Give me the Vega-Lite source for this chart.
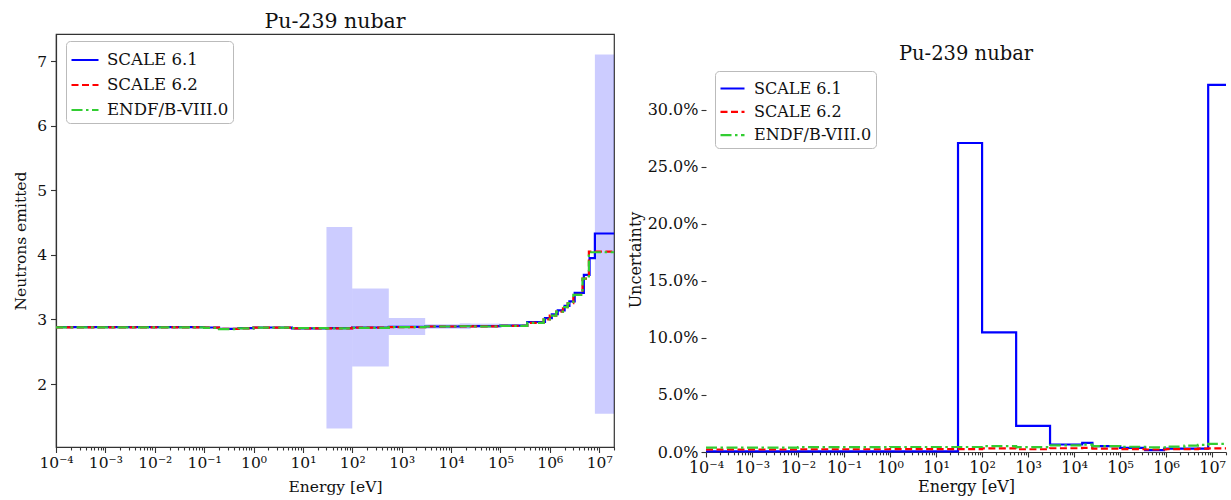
{
  "$schema": "https://vega.github.io/schema/vega-lite/v6.json",
  "padding": {"left": 13, "top": 10, "right": 0, "bottom": 0},
  "spacing": 8,
  "datasets": {
    "nubar": [
      {"lib": "SCALE 6.1", "E": 0.0001, "nu": 2.88},
      {"lib": "SCALE 6.1", "E": 0.001, "nu": 2.88},
      {"lib": "SCALE 6.1", "E": 0.01, "nu": 2.88},
      {"lib": "SCALE 6.1", "E": 0.1, "nu": 2.875},
      {"lib": "SCALE 6.1", "E": 0.2, "nu": 2.855},
      {"lib": "SCALE 6.1", "E": 0.5, "nu": 2.865},
      {"lib": "SCALE 6.1", "E": 1, "nu": 2.875},
      {"lib": "SCALE 6.1", "E": 3, "nu": 2.875},
      {"lib": "SCALE 6.1", "E": 6, "nu": 2.86},
      {"lib": "SCALE 6.1", "E": 30, "nu": 2.865},
      {"lib": "SCALE 6.1", "E": 100, "nu": 2.875},
      {"lib": "SCALE 6.1", "E": 550, "nu": 2.885},
      {"lib": "SCALE 6.1", "E": 3000, "nu": 2.89},
      {"lib": "SCALE 6.1", "E": 15000, "nu": 2.895},
      {"lib": "SCALE 6.1", "E": 25000, "nu": 2.895},
      {"lib": "SCALE 6.1", "E": 100000, "nu": 2.905},
      {"lib": "SCALE 6.1", "E": 350000, "nu": 2.96},
      {"lib": "SCALE 6.1", "E": 800000, "nu": 3.02},
      {"lib": "SCALE 6.1", "E": 1100000, "nu": 3.08},
      {"lib": "SCALE 6.1", "E": 1450000, "nu": 3.14},
      {"lib": "SCALE 6.1", "E": 2000000, "nu": 3.21},
      {"lib": "SCALE 6.1", "E": 2500000, "nu": 3.28},
      {"lib": "SCALE 6.1", "E": 3200000, "nu": 3.41},
      {"lib": "SCALE 6.1", "E": 4900000, "nu": 3.69},
      {"lib": "SCALE 6.1", "E": 6400000, "nu": 3.95},
      {"lib": "SCALE 6.1", "E": 8200000, "nu": 4.33},
      {"lib": "SCALE 6.1", "E": 20000000, "nu": 4.33},
      {"lib": "SCALE 6.2", "E": 0.0001, "nu": 2.878},
      {"lib": "SCALE 6.2", "E": 0.001, "nu": 2.878},
      {"lib": "SCALE 6.2", "E": 0.01, "nu": 2.877},
      {"lib": "SCALE 6.2", "E": 0.1, "nu": 2.872},
      {"lib": "SCALE 6.2", "E": 0.2, "nu": 2.852},
      {"lib": "SCALE 6.2", "E": 0.5, "nu": 2.862},
      {"lib": "SCALE 6.2", "E": 1, "nu": 2.873},
      {"lib": "SCALE 6.2", "E": 3, "nu": 2.872},
      {"lib": "SCALE 6.2", "E": 6, "nu": 2.862},
      {"lib": "SCALE 6.2", "E": 30, "nu": 2.862},
      {"lib": "SCALE 6.2", "E": 100, "nu": 2.872},
      {"lib": "SCALE 6.2", "E": 550, "nu": 2.882},
      {"lib": "SCALE 6.2", "E": 3000, "nu": 2.89},
      {"lib": "SCALE 6.2", "E": 15000, "nu": 2.893},
      {"lib": "SCALE 6.2", "E": 25000, "nu": 2.892},
      {"lib": "SCALE 6.2", "E": 100000, "nu": 2.9},
      {"lib": "SCALE 6.2", "E": 350000, "nu": 2.945},
      {"lib": "SCALE 6.2", "E": 750000, "nu": 3.0},
      {"lib": "SCALE 6.2", "E": 1000000, "nu": 3.06},
      {"lib": "SCALE 6.2", "E": 1350000, "nu": 3.12},
      {"lib": "SCALE 6.2", "E": 1850000, "nu": 3.19},
      {"lib": "SCALE 6.2", "E": 2300000, "nu": 3.25},
      {"lib": "SCALE 6.2", "E": 3000000, "nu": 3.38},
      {"lib": "SCALE 6.2", "E": 4600000, "nu": 3.63},
      {"lib": "SCALE 6.2", "E": 6200000, "nu": 4.05},
      {"lib": "SCALE 6.2", "E": 20000000, "nu": 4.05},
      {"lib": "ENDF/B-VIII.0", "E": 0.0001, "nu": 2.876},
      {"lib": "ENDF/B-VIII.0", "E": 0.001, "nu": 2.876},
      {"lib": "ENDF/B-VIII.0", "E": 0.01, "nu": 2.876},
      {"lib": "ENDF/B-VIII.0", "E": 0.1, "nu": 2.87},
      {"lib": "ENDF/B-VIII.0", "E": 0.2, "nu": 2.85},
      {"lib": "ENDF/B-VIII.0", "E": 0.5, "nu": 2.86},
      {"lib": "ENDF/B-VIII.0", "E": 1, "nu": 2.874},
      {"lib": "ENDF/B-VIII.0", "E": 3, "nu": 2.873},
      {"lib": "ENDF/B-VIII.0", "E": 6, "nu": 2.864},
      {"lib": "ENDF/B-VIII.0", "E": 30, "nu": 2.86},
      {"lib": "ENDF/B-VIII.0", "E": 100, "nu": 2.87},
      {"lib": "ENDF/B-VIII.0", "E": 550, "nu": 2.88},
      {"lib": "ENDF/B-VIII.0", "E": 3000, "nu": 2.89},
      {"lib": "ENDF/B-VIII.0", "E": 15000, "nu": 2.894},
      {"lib": "ENDF/B-VIII.0", "E": 25000, "nu": 2.89},
      {"lib": "ENDF/B-VIII.0", "E": 100000, "nu": 2.9},
      {"lib": "ENDF/B-VIII.0", "E": 350000, "nu": 2.945},
      {"lib": "ENDF/B-VIII.0", "E": 750000, "nu": 3.0},
      {"lib": "ENDF/B-VIII.0", "E": 1000000, "nu": 3.06},
      {"lib": "ENDF/B-VIII.0", "E": 1350000, "nu": 3.12},
      {"lib": "ENDF/B-VIII.0", "E": 1850000, "nu": 3.19},
      {"lib": "ENDF/B-VIII.0", "E": 2300000, "nu": 3.25},
      {"lib": "ENDF/B-VIII.0", "E": 3000000, "nu": 3.38},
      {"lib": "ENDF/B-VIII.0", "E": 4600000, "nu": 3.63},
      {"lib": "ENDF/B-VIII.0", "E": 6200000, "nu": 4.04},
      {"lib": "ENDF/B-VIII.0", "E": 20000000, "nu": 4.04}
    ],
    "bands": [
      {"E_lo": 30, "E_hi": 100, "lo": 1.31, "hi": 4.43},
      {"E_lo": 100, "E_hi": 550, "lo": 2.27, "hi": 3.48},
      {"E_lo": 550, "E_hi": 3000, "lo": 2.76, "hi": 3.02},
      {"E_lo": 3000, "E_hi": 15000, "lo": 2.855, "hi": 2.925},
      {"E_lo": 15000, "E_hi": 25000, "lo": 2.85, "hi": 2.94},
      {"E_lo": 25000, "E_hi": 100000, "lo": 2.875, "hi": 2.935},
      {"E_lo": 100000, "E_hi": 350000, "lo": 2.885, "hi": 2.925},
      {"E_lo": 8200000, "E_hi": 20000000, "lo": 1.54, "hi": 7.1}
    ],
    "unc": [
      {"lib": "SCALE 6.1", "E": 0.0001, "u": 0.0005},
      {"lib": "SCALE 6.1", "E": 30, "u": 0.271},
      {"lib": "SCALE 6.1", "E": 100, "u": 0.105},
      {"lib": "SCALE 6.1", "E": 550, "u": 0.023},
      {"lib": "SCALE 6.1", "E": 3000, "u": 0.0066},
      {"lib": "SCALE 6.1", "E": 15000, "u": 0.008},
      {"lib": "SCALE 6.1", "E": 25000, "u": 0.0052},
      {"lib": "SCALE 6.1", "E": 100000, "u": 0.0037},
      {"lib": "SCALE 6.1", "E": 350000, "u": 0.0017},
      {"lib": "SCALE 6.1", "E": 900000, "u": 0.003},
      {"lib": "SCALE 6.1", "E": 8200000, "u": 0.322},
      {"lib": "SCALE 6.1", "E": 20000000, "u": 0.322},
      {"lib": "SCALE 6.2", "E": 0.0001, "u": 0.0022},
      {"lib": "SCALE 6.2", "E": 0.01, "u": 0.0024},
      {"lib": "SCALE 6.2", "E": 1, "u": 0.0025},
      {"lib": "SCALE 6.2", "E": 100, "u": 0.0032},
      {"lib": "SCALE 6.2", "E": 550, "u": 0.0024},
      {"lib": "SCALE 6.2", "E": 3000, "u": 0.0033},
      {"lib": "SCALE 6.2", "E": 15000, "u": 0.0036},
      {"lib": "SCALE 6.2", "E": 25000, "u": 0.003},
      {"lib": "SCALE 6.2", "E": 100000, "u": 0.0026},
      {"lib": "SCALE 6.2", "E": 350000, "u": 0.0022},
      {"lib": "SCALE 6.2", "E": 1000000, "u": 0.0025},
      {"lib": "SCALE 6.2", "E": 4900000, "u": 0.003},
      {"lib": "SCALE 6.2", "E": 8200000, "u": 0.0032},
      {"lib": "SCALE 6.2", "E": 20000000, "u": 0.0032},
      {"lib": "ENDF/B-VIII.0", "E": 0.0001, "u": 0.0038},
      {"lib": "ENDF/B-VIII.0", "E": 0.01, "u": 0.0042},
      {"lib": "ENDF/B-VIII.0", "E": 1, "u": 0.0044},
      {"lib": "ENDF/B-VIII.0", "E": 100, "u": 0.0052},
      {"lib": "ENDF/B-VIII.0", "E": 550, "u": 0.0042},
      {"lib": "ENDF/B-VIII.0", "E": 3000, "u": 0.0058},
      {"lib": "ENDF/B-VIII.0", "E": 15000, "u": 0.0064},
      {"lib": "ENDF/B-VIII.0", "E": 25000, "u": 0.0052},
      {"lib": "ENDF/B-VIII.0", "E": 100000, "u": 0.0046},
      {"lib": "ENDF/B-VIII.0", "E": 350000, "u": 0.004},
      {"lib": "ENDF/B-VIII.0", "E": 1000000, "u": 0.0048},
      {"lib": "ENDF/B-VIII.0", "E": 2500000, "u": 0.0056},
      {"lib": "ENDF/B-VIII.0", "E": 4900000, "u": 0.0063},
      {"lib": "ENDF/B-VIII.0", "E": 8200000, "u": 0.0072},
      {"lib": "ENDF/B-VIII.0", "E": 20000000, "u": 0.0072}
    ]
  },
  "hconcat": [
    {
      "width": 558,
      "height": 413,
      "title": {"text": "Pu-239 nubar", "fontSize": 20.5, "offset": -18, "baseline": "bottom", "anchor": "middle"},
      "layer": [
        {
          "data": {"name": "bands"},
          "mark": {"type": "rect", "color": "#0000ff", "opacity": 0.2},
          "encoding": {
            "x": {"field": "E_lo", "type": "quantitative", "scale": {"type": "log", "domain": [0.0001, 20000000], "nice": false},
              "axis": {
                "title": "Energy [eV]",
                "values": [0.0001,0.0002,0.0003,0.0004,0.0005,0.0006,0.0007,0.0008,0.0009,0.001,0.002,0.003,0.004,0.005,0.006,0.007,0.008,0.009,0.01,0.02,0.03,0.04,0.05,0.06,0.07,0.08,0.09,0.1,0.2,0.3,0.4,0.5,0.6,0.7,0.8,0.9,1,2,3,4,5,6,7,8,9,10,20,30,40,50,60,70,80,90,100,200,300,400,500,600,700,800,900,1000,2000,3000,4000,5000,6000,7000,8000,9000,10000,20000,30000,40000,50000,60000,70000,80000,90000,100000,200000,300000,400000,500000,600000,700000,800000,900000,1000000,2000000,3000000,4000000,5000000,6000000,7000000,8000000,9000000,10000000,20000000],
                "labelExpr": "abs(log(datum.value)/LN10 - round(log(datum.value)/LN10)) < 0.001 ? '10' + replace(replace(replace(replace(replace(replace(replace(replace(replace(replace(replace(toString(round(log(datum.value)/LN10)),'-','⁻'),'0','⁰'),'1','¹'),'2','²'),'3','³'),'4','⁴'),'5','⁵'),'6','⁶'),'7','⁷'),'8','⁸'),'9','⁹') : ''",
                "tickSize": {"condition": {"test": "abs(log(datum.value)/LN10 - round(log(datum.value)/LN10)) < 0.001", "value": 5.5}, "value": 3},
                "labelFlush": false, "labelOverlap": false, "labelFontSize": 15.5, "titleFontSize": 15.5, "labelPadding": 3, "titlePadding": 8
              }
            },
            "x2": {"field": "E_hi"},
            "y": {"field": "lo", "type": "quantitative"},
            "y2": {"field": "hi"}
          }
        },
        {
          "data": {"name": "nubar"},
          "transform": [{"filter": "datum.lib === 'SCALE 6.1'"}],
          "mark": {"type": "line", "interpolate": "step-after", "strokeWidth": 2.2},
          "encoding": {
            "x": {"field": "E", "type": "quantitative"},
            "y": {"field": "nu", "type": "quantitative", "scale": {"domain": [1.025, 7.418], "nice": false, "zero": false},
              "axis": {"title": "Neutrons emitted", "values": [2,3,4,5,6,7], "format": "d", "tickSize": 5.5, "labelFontSize": 15.5, "titleFontSize": 15.5, "labelPadding": 4, "titlePadding": 8}},
            "color": {"field": "lib", "type": "nominal", "scale": {"domain": ["SCALE 6.1", "SCALE 6.2", "ENDF/B-VIII.0"], "range": ["#0000ff", "#ff0000", "#32cd32"]},
              "legend": {"title": null, "orient": "none", "legendX": 10, "legendY": 7, "symbolType": "stroke", "symbolSize": 729, "symbolStrokeWidth": 2.2, "labelFontSize": 16.6, "padding": 4, "rowPadding": 1, "labelOffset": 7, "fillColor": "white", "strokeColor": "#bbbbbb", "cornerRadius": 4}},
            "strokeDash": {"field": "lib", "type": "nominal", "scale": {"domain": ["SCALE 6.1", "SCALE 6.2", "ENDF/B-VIII.0"], "range": [[1, 0], [7, 3.5], [11, 3.5, 2.5, 3.5]]},
              "legend": {"title": null, "orient": "none", "legendX": 10, "legendY": 7, "symbolType": "stroke", "symbolSize": 729, "symbolStrokeWidth": 2.2, "labelFontSize": 16.6, "padding": 4, "rowPadding": 1, "labelOffset": 7, "fillColor": "white", "strokeColor": "#bbbbbb", "cornerRadius": 4}}
          }
        },
        {
          "data": {"name": "nubar"},
          "transform": [{"filter": "datum.lib === 'SCALE 6.2'"}],
          "mark": {"type": "line", "interpolate": "step-after", "strokeWidth": 2.2},
          "encoding": {
            "x": {"field": "E", "type": "quantitative"},
            "y": {"field": "nu", "type": "quantitative"},
            "color": {"field": "lib", "type": "nominal"},
            "strokeDash": {"field": "lib", "type": "nominal"}
          }
        },
        {
          "data": {"name": "nubar"},
          "transform": [{"filter": "datum.lib === 'ENDF/B-VIII.0'"}],
          "mark": {"type": "line", "interpolate": "step-after", "strokeWidth": 2.2},
          "encoding": {
            "x": {"field": "E", "type": "quantitative"},
            "y": {"field": "nu", "type": "quantitative"},
            "color": {"field": "lib", "type": "nominal"},
            "strokeDash": {"field": "lib", "type": "nominal"}
          }
        }
      ]
    },
    {
      "width": 520,
      "height": 418,
      "view": {"stroke": null},
      "title": {"text": "Pu-239 nubar", "fontSize": 19.5, "offset": -49, "baseline": "bottom", "anchor": "middle"},
      "layer": [
        {
          "data": {"name": "unc"},
          "transform": [{"filter": "datum.lib === 'SCALE 6.1'"}],
          "mark": {"type": "line", "interpolate": "step-after", "strokeWidth": 2.2},
          "encoding": {
            "x": {"field": "E", "type": "quantitative", "scale": {"type": "log", "domain": [0.0001, 20000000], "nice": false},
              "axis": {
                "title": "Energy [eV]",
                "values": [0.0001,0.0002,0.0003,0.0004,0.0005,0.0006,0.0007,0.0008,0.0009,0.001,0.002,0.003,0.004,0.005,0.006,0.007,0.008,0.009,0.01,0.02,0.03,0.04,0.05,0.06,0.07,0.08,0.09,0.1,0.2,0.3,0.4,0.5,0.6,0.7,0.8,0.9,1,2,3,4,5,6,7,8,9,10,20,30,40,50,60,70,80,90,100,200,300,400,500,600,700,800,900,1000,2000,3000,4000,5000,6000,7000,8000,9000,10000,20000,30000,40000,50000,60000,70000,80000,90000,100000,200000,300000,400000,500000,600000,700000,800000,900000,1000000,2000000,3000000,4000000,5000000,6000000,7000000,8000000,9000000,10000000,20000000],
                "labelExpr": "abs(log(datum.value)/LN10 - round(log(datum.value)/LN10)) < 0.001 ? '10' + replace(replace(replace(replace(replace(replace(replace(replace(replace(replace(replace(toString(round(log(datum.value)/LN10)),'-','⁻'),'0','⁰'),'1','¹'),'2','²'),'3','³'),'4','⁴'),'5','⁵'),'6','⁶'),'7','⁷'),'8','⁸'),'9','⁹') : ''",
                "tickSize": {"condition": {"test": "abs(log(datum.value)/LN10 - round(log(datum.value)/LN10)) < 0.001", "value": 5}, "value": 2.8},
                "labelFlush": false, "labelOverlap": false, "labelFontSize": 16, "titleFontSize": 16, "labelPadding": 2, "titlePadding": 3
              }
            },
            "y": {"field": "u", "type": "quantitative", "scale": {"domain": [0, 0.3666], "nice": false, "zero": false},
              "axis": {"title": "Uncertainty", "values": [0, 0.05, 0.1, 0.15, 0.2, 0.25, 0.3], "format": ".1%", "domain": false, "tickSize": 5, "labelFontSize": 16, "titleFontSize": 16, "labelPadding": 3, "titlePadding": 4, "titleY": 225.5}},
            "color": {"field": "lib", "type": "nominal", "scale": {"domain": ["SCALE 6.1", "SCALE 6.2", "ENDF/B-VIII.0"], "range": ["#0000ff", "#ff0000", "#32cd32"]},
              "legend": {"title": null, "orient": "none", "legendX": 9, "legendY": 37, "symbolType": "stroke", "symbolSize": 576, "symbolStrokeWidth": 2.2, "labelFontSize": 16, "padding": 4, "rowPadding": 1.3, "labelOffset": 8, "fillColor": "white", "strokeColor": "#bbbbbb", "cornerRadius": 4}},
            "strokeDash": {"field": "lib", "type": "nominal", "scale": {"domain": ["SCALE 6.1", "SCALE 6.2", "ENDF/B-VIII.0"], "range": [[1, 0], [7, 3.5], [11, 3.5, 2.5, 3.5]]},
              "legend": {"title": null, "orient": "none", "legendX": 9, "legendY": 37, "symbolType": "stroke", "symbolSize": 576, "symbolStrokeWidth": 2.2, "labelFontSize": 16, "padding": 4, "rowPadding": 1.3, "labelOffset": 8, "fillColor": "white", "strokeColor": "#bbbbbb", "cornerRadius": 4}}
          }
        },
        {
          "data": {"name": "unc"},
          "transform": [{"filter": "datum.lib === 'SCALE 6.2'"}],
          "mark": {"type": "line", "interpolate": "step-after", "strokeWidth": 2.2},
          "encoding": {
            "x": {"field": "E", "type": "quantitative"},
            "y": {"field": "u", "type": "quantitative"},
            "color": {"field": "lib", "type": "nominal"},
            "strokeDash": {"field": "lib", "type": "nominal"}
          }
        },
        {
          "data": {"name": "unc"},
          "transform": [{"filter": "datum.lib === 'ENDF/B-VIII.0'"}],
          "mark": {"type": "line", "interpolate": "step-after", "strokeWidth": 2.2},
          "encoding": {
            "x": {"field": "E", "type": "quantitative"},
            "y": {"field": "u", "type": "quantitative"},
            "color": {"field": "lib", "type": "nominal"},
            "strokeDash": {"field": "lib", "type": "nominal"}
          }
        },
        {
          "mark": {"type": "rule", "color": "#333333", "strokeWidth": 1.2},
          "encoding": {"x": {"datum": 0.0001}, "y": {"datum": 0}, "y2": {"datum": 0.3377}}
        },
        {
          "mark": {"type": "rule", "color": "#333333", "strokeWidth": 1.2},
          "encoding": {"x": {"datum": 20000000}, "y": {"datum": 0}, "y2": {"datum": 0.3377}}
        },
        {
          "mark": {"type": "rule", "color": "#333333", "strokeWidth": 1.2},
          "encoding": {"x": {"datum": 0.0001}, "x2": {"datum": 20000000}, "y": {"datum": 0.3377}}
        }
      ]
    }
  ],
  "resolve": {"scale": {"color": "independent", "strokeDash": "independent"}, "legend": {"color": "independent", "strokeDash": "independent"}},
  "config": {
    "font": "DejaVu Serif",
    "view": {"stroke": "#333333", "strokeWidth": 1.2},
    "axis": {"grid": false, "domainColor": "#333333", "domainWidth": 1.2, "tickColor": "#333333", "tickWidth": 1.1, "labelColor": "#111111", "titleColor": "#111111", "titleFontWeight": "normal", "labelFont": "DejaVu Serif", "titleFont": "DejaVu Serif"},
    "title": {"font": "DejaVu Serif", "fontWeight": "normal", "color": "#111111"},
    "legend": {"labelFont": "DejaVu Serif", "labelColor": "#111111"}
  }
}
